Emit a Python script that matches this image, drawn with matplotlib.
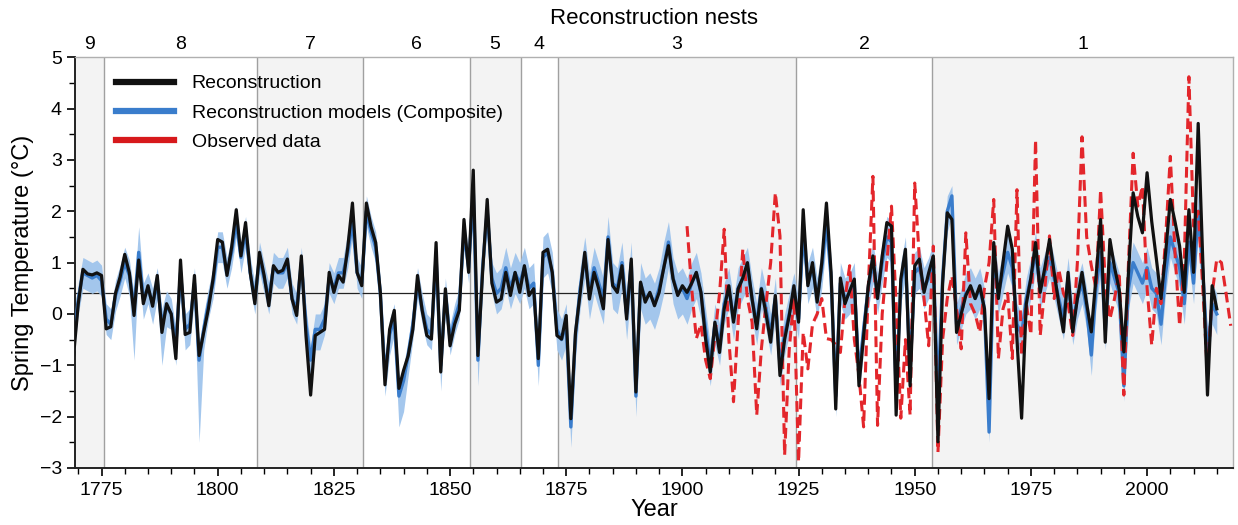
import numpy as np
import matplotlib
matplotlib.use("Agg")
import matplotlib.pyplot as plt
from matplotlib.lines import Line2D

plt.rcParams['font.family'] = ['Liberation Sans', 'DejaVu Sans']

# ---------------- data ----------------
recon_start = 1769
recon = [
    -0.8,
    0.2, 0.87, 0.78, 0.76, 0.8, 0.75, -0.29, -0.25, 0.4, 0.72,
    1.16, 0.8, -0.03, 1.05, 0.2, 0.55, 0.15, 0.75, -0.36, 0.2,
    0.0, -0.87, 1.05, -0.4, -0.36, 0.75, -0.81, -0.36, 0.1, 0.68,
    1.45, 1.4, 0.75, 1.3, 2.03, 1.13, 1.78, 0.81, 0.2, 1.2,
    0.75, 0.16, 0.94, 0.81, 0.85, 1.07, 0.29, -0.03, 1.13, -0.42,
    -1.58, -0.42, -0.36, -0.3, 0.81, 0.42, 0.75, 0.62, 1.3, 2.16,
    0.81, 0.55, 2.16, 1.7, 1.39, 0.42, -1.38, -0.3, 0.07, -1.45,
    -1.1, -0.81, -0.3, 0.75, 0.07, -0.42, -0.49, 1.39, -1.13, 0.49,
    -0.62, -0.2, 0.07, 1.84, 0.81, 2.8, -0.81, 0.8, 2.23, 0.6,
    0.23, 0.29, 0.81, 0.36, 0.81, 0.42, 0.94, 0.36, 0.49, -0.87,
    1.2, 1.26, 0.81, -0.42, -0.49, -0.03, -2.04, -0.36, 0.4, 1.2,
    0.29, 0.81, 0.49, 0.1, 1.45, 0.55, 0.42, 0.94, -0.1, 1.07,
    -1.52, 0.62, 0.23, 0.42, 0.16, 0.42, 0.9, 1.33, 0.68, 0.36,
    0.55, 0.42, 0.6, 0.81, 0.42, -0.49, -1.13, -0.16, -0.75, 0.1,
    0.55, -0.16, 0.49, 0.7, 1.0, 0.29, -0.29, 0.49, 0.0, -0.55,
    0.36, -1.2, -0.5, -0.03, 0.55, -0.16, 2.03, 0.55, 1.0, 0.23,
    1.0, 2.16, 0.81, -1.85, 0.7, 0.2, 0.45, 0.68, -1.4, -0.42,
    0.55, 1.13, 0.3, 1.13, 1.78, 1.71, -1.97, 0.68, 1.26, -1.4,
    0.94, 1.07, 0.42, 0.8, 1.13, -2.49, 0.6, 1.97, 1.84, -0.36,
    0.0, 0.36, 0.55, 0.3, 0.55, 0.1, -1.65, 1.39, 0.3, 1.0,
    1.71, 1.26, -0.5, -2.03, 0.19, 0.7, 1.39, 0.42, 0.9, 1.45,
    0.81, 0.2, -0.35, 0.81, -0.35, 0.3, 0.81, 0.2, -0.35, 0.7,
    1.84, -0.55, 1.45, 0.9, 0.48, -0.74, 0.8, 2.36, 1.9, 1.58,
    2.75, 1.8, 1.07, 0.3, 1.2, 2.23, 1.8, 1.32, 0.42, 2.03,
    0.81, 3.71, 1.0, -1.58, 0.55, 0.1,
]

composite = [
    -0.6,
    0.3, 0.8, 0.75, 0.7, 0.75, 0.65, -0.1, -0.2, 0.35, 0.65,
    1.0, 0.75, 0.1, 1.2, 0.3, 0.5, 0.2, 0.6, -0.2, 0.15,
    0.0, -0.6, 0.8, -0.3, -0.2, 0.6, -0.9, -0.3, 0.2, 0.6,
    1.3, 1.3, 0.8, 1.2, 1.8, 1.1, 1.6, 0.8, 0.3, 1.1,
    0.7, 0.3, 0.9, 0.8, 0.8, 1.0, 0.3, 0.1, 1.0, -0.2,
    -0.9, -0.3, -0.3, -0.1, 0.7, 0.5, 0.8, 0.8, 1.2, 1.8,
    0.8, 0.6, 2.0, 1.6, 1.3, 0.4, -1.2, -0.4, -0.1, -1.6,
    -1.3, -0.8, -0.2, 0.6, 0.1, -0.3, -0.4, 1.1, -1.0, 0.4,
    -0.5, -0.1, 0.2, 1.6, 0.9, 2.4, -0.9, 0.9, 2.0, 0.7,
    0.4, 0.5, 0.9, 0.5, 0.8, 0.6, 0.9, 0.5, 0.6, -1.0,
    1.1, 1.2, 0.8, -0.3, -0.5, -0.2, -2.2, -0.4, 0.5, 1.1,
    0.4, 0.9, 0.6, 0.3, 1.5, 0.6, 0.5, 1.0, 0.0, 1.0,
    -1.6, 0.6, 0.3, 0.4, 0.2, 0.5, 0.9, 1.4, 0.7, 0.4,
    0.5, 0.3, 0.6, 0.8, 0.4, -0.3, -1.0, -0.2, -0.6, 0.2,
    0.5, -0.1, 0.5, 0.7, 0.9, 0.3, -0.2, 0.5, 0.1, -0.4,
    0.3, -1.0, -0.4, 0.0, 0.4, -0.1, 1.6, 0.6, 0.9, 0.3,
    0.9, 1.8, 0.7, -1.6, 0.6, 0.3, 0.4, 0.6, -1.2, -0.3,
    0.5, 1.0, 0.4, 1.0, 1.5, 1.4, -1.5, 0.6, 1.1, -1.1,
    0.8, 0.9, 0.5, 0.7, 1.0, -1.6, 0.7, 2.0, 2.3, -0.2,
    0.1, 0.4, 0.5, 0.3, 0.5, 0.1, -2.3, 1.1, 0.4, 0.8,
    1.2, 0.9, -0.2, -0.4, 0.3, 0.7, 1.2, 0.5, 0.8, 1.1,
    0.7, 0.3, -0.1, 0.7, -0.2, 0.3, 0.6, 0.1, -0.8, 0.5,
    1.2, -0.3, 1.0, 0.7, 0.4, -1.4, 0.5, 1.0, 0.8, 0.6,
    0.9, 0.5, 0.4, -0.2, 0.8, 1.5, 1.2, 0.9, 0.2, 1.4,
    0.6, 2.0, 0.8, -0.8, 0.2, 0.0,
]

# spread of individual nest models below / above the composite
band_below = [
    0.3,
    0.3, 0.3, 0.3, 0.3, 0.3, 0.3, 0.3, 0.3, 0.3, 0.3,
    0.3, 0.4, 1.0, 0.3, 0.4, 0.3, 0.4, 0.3, 0.8, 0.4,
    0.3, 0.4, 0.3, 0.4, 0.4, 0.3, 1.6, 0.4, 0.3, 0.3,
    0.3, 0.3, 0.3, 0.3, 0.3, 0.3, 0.3, 0.3, 0.3, 0.3,
    0.3, 0.3, 0.3, 0.3, 0.3, 0.3, 0.3, 0.3, 0.3, 0.3,
    0.4, 0.4, 0.4, 0.3, 0.3, 0.3, 0.3, 0.3, 0.3, 0.3,
    0.3, 0.3, 0.3, 0.3, 0.3, 0.3, 0.4, 0.4, 0.3, 0.6,
    0.6, 0.4, 0.3, 0.3, 0.3, 0.3, 0.3, 0.3, 0.5, 0.3,
    0.3, 0.3, 0.3, 0.3, 0.3, 0.3, 0.5, 0.3, 0.3, 0.3,
    0.4, 0.4, 0.4, 0.4, 0.4, 0.4, 0.4, 0.4, 0.4, 0.4,
    0.4, 0.4, 0.4, 0.4, 0.4, 0.4, 0.4, 0.4, 0.4, 0.4,
    0.5, 0.5, 0.5, 0.5, 0.5, 0.5, 0.5, 0.5, 0.5, 0.5,
    0.4, 0.5, 0.5, 0.5, 0.5, 0.5, 0.5, 0.5, 0.5, 0.5,
    0.5, 0.5, 0.5, 0.5, 0.5, 0.5, 0.4, 0.4, 0.4, 0.4,
    0.4, 0.4, 0.4, 0.4, 0.4, 0.4, 0.4, 0.4, 0.4, 0.4,
    0.4, 0.4, 0.4, 0.4, 0.4, 0.4, 0.4, 0.4, 0.4, 0.4,
    0.4, 0.4, 0.4, 0.4, 0.4, 0.4, 0.4, 0.4, 0.4, 0.4,
    0.4, 0.4, 0.4, 0.4, 0.4, 0.4, 0.4, 0.4, 0.4, 0.4,
    0.4, 0.4, 0.4, 0.4, 0.4, 0.5, 0.4, 0.4, 0.4, 0.4,
    0.4, 0.4, 0.4, 0.4, 0.4, 0.4, 0.2, 0.4, 0.4, 0.4,
    0.4, 0.4, 0.4, 0.4, 0.4, 0.4, 0.4, 0.4, 0.4, 0.4,
    0.4, 0.4, 0.4, 0.4, 0.4, 0.4, 0.4, 0.4, 0.4, 0.4,
    0.4, 0.4, 0.4, 0.4, 0.4, 0.3, 0.4, 0.4, 0.4, 0.4,
    0.4, 0.4, 0.4, 0.4, 0.4, 0.4, 0.4, 0.4, 0.4, 0.4,
    0.4, 0.4, 0.4, 0.4, 0.4, 0.4,
]
band_above = [
    0.3,
    0.3, 0.3, 0.3, 0.3, 0.3, 0.3, 0.3, 0.3, 0.3, 0.3,
    0.3, 0.3, 0.3, 0.5, 0.3, 0.3, 0.3, 0.3, 0.3, 0.3,
    0.3, 0.3, 0.3, 0.3, 0.3, 0.3, 0.3, 0.3, 0.3, 0.3,
    0.3, 0.3, 0.3, 0.3, 0.3, 0.3, 0.3, 0.3, 0.3, 0.3,
    0.3, 0.3, 0.3, 0.3, 0.3, 0.3, 0.3, 0.3, 0.3, 0.3,
    0.3, 0.3, 0.3, 0.3, 0.3, 0.3, 0.3, 0.3, 0.4, 0.3,
    0.3, 0.3, 0.3, 0.3, 0.3, 0.3, 0.3, 0.3, 0.3, 0.3,
    0.3, 0.3, 0.3, 0.3, 0.3, 0.3, 0.3, 0.3, 0.3, 0.3,
    0.3, 0.3, 0.3, 0.3, 0.3, 0.2, 0.3, 0.3, 0.3, 0.3,
    0.4, 0.4, 0.4, 0.4, 0.4, 0.4, 0.4, 0.4, 0.4, 0.4,
    0.4, 0.4, 0.4, 0.4, 0.4, 0.4, 0.4, 0.4, 0.4, 0.4,
    0.4, 0.4, 0.4, 0.4, 0.4, 0.4, 0.4, 0.4, 0.4, 0.4,
    0.4, 0.4, 0.4, 0.4, 0.4, 0.4, 0.5, 0.4, 0.4, 0.4,
    0.4, 0.4, 0.4, 0.4, 0.4, 0.4, 0.4, 0.4, 0.4, 0.4,
    0.4, 0.4, 0.4, 0.4, 0.4, 0.4, 0.4, 0.4, 0.4, 0.4,
    0.4, 0.4, 0.4, 0.4, 0.4, 0.4, 0.4, 0.4, 0.4, 0.4,
    0.4, 0.4, 0.4, 0.4, 0.4, 0.4, 0.4, 0.4, 0.4, 0.4,
    0.4, 0.4, 0.4, 0.4, 0.4, 0.4, 0.4, 0.4, 0.4, 0.4,
    0.4, 0.4, 0.4, 0.4, 0.4, 0.4, 0.4, 0.3, 0.2, 0.4,
    0.4, 0.4, 0.4, 0.4, 0.4, 0.4, 0.4, 0.4, 0.4, 0.4,
    0.4, 0.4, 0.4, 0.4, 0.4, 0.4, 0.4, 0.4, 0.4, 0.4,
    0.4, 0.4, 0.4, 0.4, 0.4, 0.4, 0.4, 0.4, 0.4, 0.4,
    0.4, 0.4, 0.4, 0.4, 0.4, 0.4, 0.4, 0.4, 0.4, 0.4,
    0.4, 0.4, 0.4, 0.4, 0.4, 0.4, 0.4, 0.4, 0.4, 0.4,
    0.4, 0.4, 0.4, 0.4, 0.4, 0.4,
]

obs_start = 1901
observed = [
    1.71, 0.5, -0.48, -0.2, -0.9, -1.26, -0.42, 0.4, 1.65,
    -0.5, -1.71, -0.16, 1.26, 0.3, -0.16, -1.97, -0.68, 0.2, 1.0,
    2.36, 1.52, -2.75, -0.68, 0.3, -2.88, -0.36, -1.07, -0.2, 0.0,
    0.3, -0.48, -0.5, -0.6, -0.75, 0.3, 0.94, -0.5, -1.2, -2.2,
    0.5, 2.68, -2.17, 0.0, 1.0, 2.1, 0.2, -2.03, -0.5, -1.97,
    2.55, 1.07, 0.3, -0.62, 1.32, -2.69, -0.5, 0.3, 0.74, 0.1,
    -0.68, 1.58, 0.2, 0.0, -0.36, 0.5, 1.0, 2.23, -0.87, 0.1,
    0.4, -0.87, 2.42, -0.8, 0.2, -0.4, 3.39, -0.42, 0.5, 1.52,
    0.3, 0.87, 0.4, 0.2, -0.42, 1.0, 3.45, 1.5, 0.94, 0.5,
    2.42, 0.6, -0.1, 0.3, 0.81, -1.58, 1.0, 3.13, 2.1, 2.49,
    0.5, -0.61, 0.5, 0.2, 1.5, 3.07, 1.2, -0.23, 1.0, 4.62,
    1.71, 2.0, 0.5, -1.2, 0.4, 1.07, 1.0, 0.4, -0.23,
]

nest_bounds = [1769.3, 1775.5, 1808.5, 1831.3, 1854.2, 1865.2, 1873.2, 1924.5, 1953.7, 2018.5]
nest_labels = ['9', '8', '7', '6', '5', '4', '3', '2', '1']
mean_level = 0.4

# ---------------- plotting ----------------
rec = np.array(recon)
comp = np.array(composite)
yrs = np.arange(recon_start, recon_start + len(rec))
lo = comp - np.array(band_below)
hi = comp + np.array(band_above)
obs = np.array(observed)
oyrs = np.arange(obs_start, obs_start + len(obs))

fig = plt.figure(figsize=(12.38, 5.25), dpi=100)
ax = fig.add_axes([0.0606, 0.1086, 0.9354, 0.7824])

for i in range(len(nest_labels)):
    if i % 2 == 0:
        ax.axvspan(nest_bounds[i], nest_bounds[i + 1], color='#f3f3f3', zorder=0, lw=0)
for b in nest_bounds[1:-1]:
    ax.axvline(b, color='#a0a0a0', lw=1.0, zorder=1)

ax.axhline(mean_level, color='#222222', lw=0.9, zorder=2)

ax.fill_between(yrs, lo, hi, color='#9fc4ec', lw=0, zorder=3, alpha=0.95)
ax.plot(yrs, comp, color='#3a7dcc', lw=2.4, zorder=4)
ax.plot(oyrs, obs, color='#e3262b', lw=2.2, ls=(0, (3.5, 1.8)), zorder=5)
ax.plot(yrs, rec, color='#111111', lw=2.3, zorder=6)

ax.set_xlim(nest_bounds[0], nest_bounds[-1])
ax.set_ylim(-3, 5)
ax.set_xticks(np.arange(1775, 2001, 25))
ax.set_xticks(np.arange(1770, 2016, 5), minor=True)
ax.set_yticks(np.arange(-3, 6, 1))
ax.set_yticks(np.arange(-2.5, 5, 1), minor=True)
ax.tick_params(axis='both', which='major', labelsize=14, length=6, width=1.2, direction='out')
ax.tick_params(axis='both', which='minor', length=4, width=1.0, direction='out')
ax.tick_params(axis='x', pad=4)

for s in ['top', 'right']:
    ax.spines[s].set_color('#b0b0b0')
    ax.spines[s].set_linewidth(1.0)
for s in ['left', 'bottom']:
    ax.spines[s].set_color('#222222')
    ax.spines[s].set_linewidth(1.4)

ax.set_xlabel('Year', fontsize=17, labelpad=0)
ax.set_ylabel('Spring Temperature (°C)', fontsize=17, labelpad=4)

# top axis with nest numbers
top = ax.secondary_xaxis('top')
centers = [(nest_bounds[i] + nest_bounds[i + 1]) / 2 for i in range(len(nest_labels))]
top.set_xticks(centers)
top.set_xticklabels(nest_labels, fontsize=14)
top.tick_params(length=0, pad=3)
top.spines['top'].set_visible(False)
top.set_xlabel('Reconstruction nests', fontsize=16, labelpad=9)

handles = [
    Line2D([], [], color='#111111', lw=4.5),
    Line2D([], [], color='#3a7dcc', lw=4.5),
    Line2D([], [], color='#d7191c', lw=4.5),
]
ax.legend(handles, ['Reconstruction', 'Reconstruction models (Composite)', 'Observed data'],
          loc='upper left', bbox_to_anchor=(0.02, 1.0), frameon=False, fontsize=14,
          handlelength=3.0, handletextpad=0.9, labelspacing=0.6)

fig.savefig('out.png', dpi=100)
